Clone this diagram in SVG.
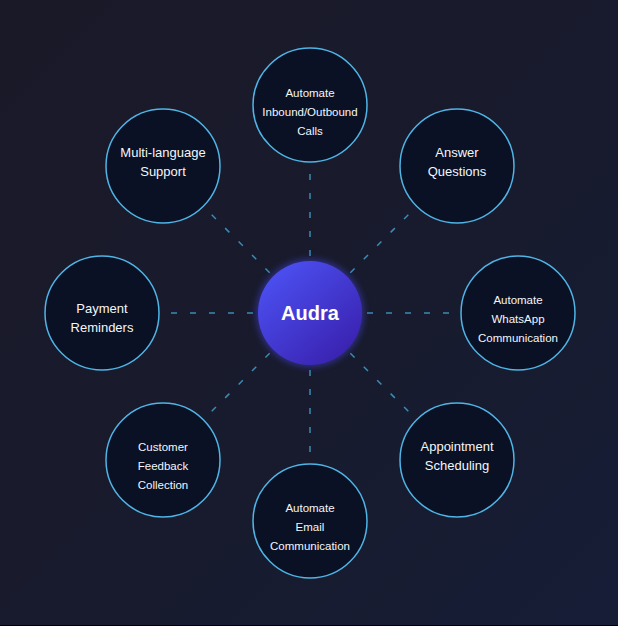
<svg xmlns="http://www.w3.org/2000/svg" width="618" height="626" viewBox="0 0 618 626">
  <defs>
    <linearGradient id="bg" x1="0" y1="0" x2="1" y2="1">
      <stop offset="0" stop-color="#1a1928"/>
      <stop offset="0.6" stop-color="#181b2e"/>
      <stop offset="1" stop-color="#161d36"/>
    </linearGradient>
    <linearGradient id="hub" x1="0.15" y1="0.1" x2="0.85" y2="0.9">
      <stop offset="0" stop-color="#4b4ff0"/>
      <stop offset="1" stop-color="#3a22b0"/>
    </linearGradient>
    <filter id="glow" x="-30%" y="-30%" width="160%" height="160%">
      <feGaussianBlur stdDeviation="3"/>
    </filter>
    <style>
      .node circle { fill: #0a1124; stroke: #4fb4e6; stroke-width: 1.5; }
      .node text { font-family: "Liberation Sans", Arial, sans-serif; font-size: 11.5px; fill: #f4f6fa; text-anchor: middle; }
      .node text.lg { font-size: 13px; }
      .links line { stroke: #3b8bb3; stroke-width: 1.5; stroke-dasharray: 6 13; }
      .hub text { font-family: "Liberation Sans", Arial, sans-serif; font-size: 20px; font-weight: bold; fill: #ffffff; text-anchor: middle; }
    </style>
  </defs>
  <rect x="0" y="0" width="618" height="626" fill="url(#bg)"/>
  <rect x="0" y="625" width="618" height="1" fill="#000000"/>

  <g id="connectors" class="links">
    <line x1="310" y1="174" x2="310" y2="257"/>
    <line x1="408.3" y1="214.7" x2="349.6" y2="273.4"/>
    <line x1="449" y1="313" x2="366" y2="313"/>
    <line x1="408.3" y1="411.3" x2="349.6" y2="352.6"/>
    <line x1="310" y1="452" x2="310" y2="369"/>
    <line x1="211.7" y1="411.3" x2="270.4" y2="352.6"/>
    <line x1="171" y1="313" x2="254" y2="313"/>
    <line x1="211.7" y1="214.7" x2="270.4" y2="273.4"/>
  </g>

  <g id="audra" class="hub">
    <circle cx="310" cy="313" r="54" fill="#4a4af0" opacity="0.45" filter="url(#glow)"/>
    <circle cx="310" cy="313" r="52" fill="url(#hub)"/>
    <text x="310" y="320">Audra</text>
  </g>

  <g id="node-calls" class="node">
    <circle cx="310" cy="105" r="57"/>
    <text x="310" y="96.5">Automate</text>
    <text x="310" y="115.5">Inbound/Outbound</text>
    <text x="310" y="134.5">Calls</text>
  </g>
  <g id="node-questions" class="node">
    <circle cx="457" cy="166" r="57"/>
    <text class="lg" x="457" y="157">Answer</text>
    <text class="lg" x="457" y="176">Questions</text>
  </g>
  <g id="node-whatsapp" class="node">
    <circle cx="518" cy="313" r="57"/>
    <text x="518" y="303.5">Automate</text>
    <text x="518" y="322.5">WhatsApp</text>
    <text x="518" y="341.5">Communication</text>
  </g>
  <g id="node-appointment" class="node">
    <circle cx="457" cy="460" r="57"/>
    <text class="lg" x="457" y="451">Appointment</text>
    <text class="lg" x="457" y="470">Scheduling</text>
  </g>
  <g id="node-email" class="node">
    <circle cx="310" cy="521" r="57"/>
    <text x="310" y="511.5">Automate</text>
    <text x="310" y="530.5">Email</text>
    <text x="310" y="549.5">Communication</text>
  </g>
  <g id="node-feedback" class="node">
    <circle cx="163" cy="460" r="57"/>
    <text x="163" y="450.5">Customer</text>
    <text x="163" y="469.5">Feedback</text>
    <text x="163" y="488.5">Collection</text>
  </g>
  <g id="node-payment" class="node">
    <circle cx="102" cy="313" r="57"/>
    <text class="lg" x="102" y="313">Payment</text>
    <text class="lg" x="102" y="332">Reminders</text>
  </g>
  <g id="node-multilanguage" class="node">
    <circle cx="163" cy="166" r="57"/>
    <text class="lg" x="163" y="156.5">Multi-language</text>
    <text class="lg" x="163" y="175.5">Support</text>
  </g>
</svg>
